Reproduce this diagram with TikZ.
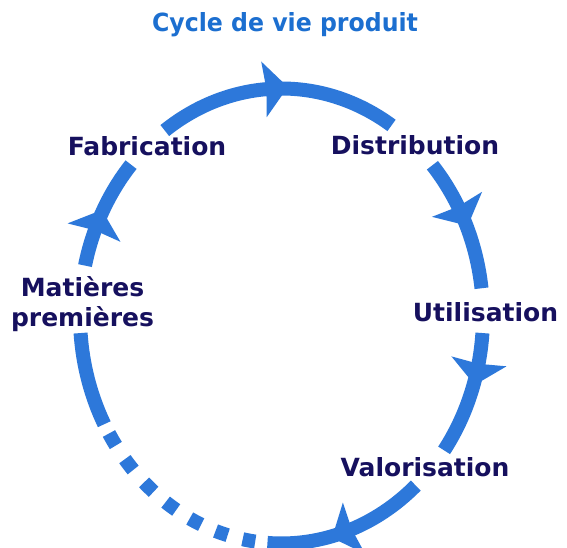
\documentclass[tikz,border=0pt]{standalone}
\usepackage{fontspec}
\setmainfont{DejaVu Sans}
\usepackage{graphicx}
\definecolor{cycblue}{HTML}{2D78DA}
\definecolor{ttlblue}{HTML}{1C6FD0}
\definecolor{lblnavy}{HTML}{16105E}
\begin{document}
\begin{tikzpicture}[x=1pt,y=1pt,
  cyc/.style={draw=cycblue, line width=14pt},
  lbl/.style={text=lblnavy, font=\fontsize{25}{30}\selectfont\bfseries, inner sep=0pt, anchor=base},
  ttl/.style={text=ttlblue, font=\fontsize{25}{30}\selectfont\bfseries, inner sep=0pt, anchor=base},
  tipshape/.style={fill=cycblue}]
\useasboundingbox (0,0) rectangle (567,548);
\fill[white] (0,0) rectangle (567,548);
\coordinate (C) at (281.5,232);
% solid arcs
\foreach \a/\b in {125.4/56.9, 41.5/7, -4.3/-36.2, -48.2/-94, 184.3/208.4, 167.2/138.3}{
  \draw[cyc] (C) ++(\a:201.5 and 227.5) arc[start angle=\a, end angle=\b, x radius=201.5, y radius=227.5];
}
% dotted part
\foreach \s in {-99.3,-107.3,-115.3,-123.3,-131.2,-139.2,-147.1}{
  \pgfmathsetmacro\sa{\s+1.8}
  \pgfmathsetmacro\sb{\s-1.8}
  \draw[cyc] (C) ++(\sa:201.5 and 227.5) arc[start angle=\sa, end angle=\sb, x radius=201.5, y radius=227.5];
}
% arrow heads
\foreach \b in {95,29.4,-11.5,-68.9,158.5}{
  \begin{scope}[shift={(C)}, shift={(\b:201.5 and 227.5)}, rotate={atan2(-227.5*cos(\b),201.5*sin(\b))}]
    \fill[tipshape] (24,0) -- (0,28) -- (2.5,0) -- (0,-28) -- cycle;
  \end{scope}
}
% labels
\node[ttl] (title) at (285,516.3) {\scalebox{0.945}[1]{Cycle de vie produit}};
\node[lbl] (fab) at (147,392) {Fabrication};
\node[lbl] (dist) at (415,393) {Distribution};
\node[lbl] (util) at (485.5,226) {Utilisation};
\node[lbl] (valo) at (425,71) {Valorisation};
\node[lbl] (mat) at (82.5,251) {Matières};
\node[lbl] (prem) at (82.5,221) {premières};
\end{tikzpicture}
\end{document}
